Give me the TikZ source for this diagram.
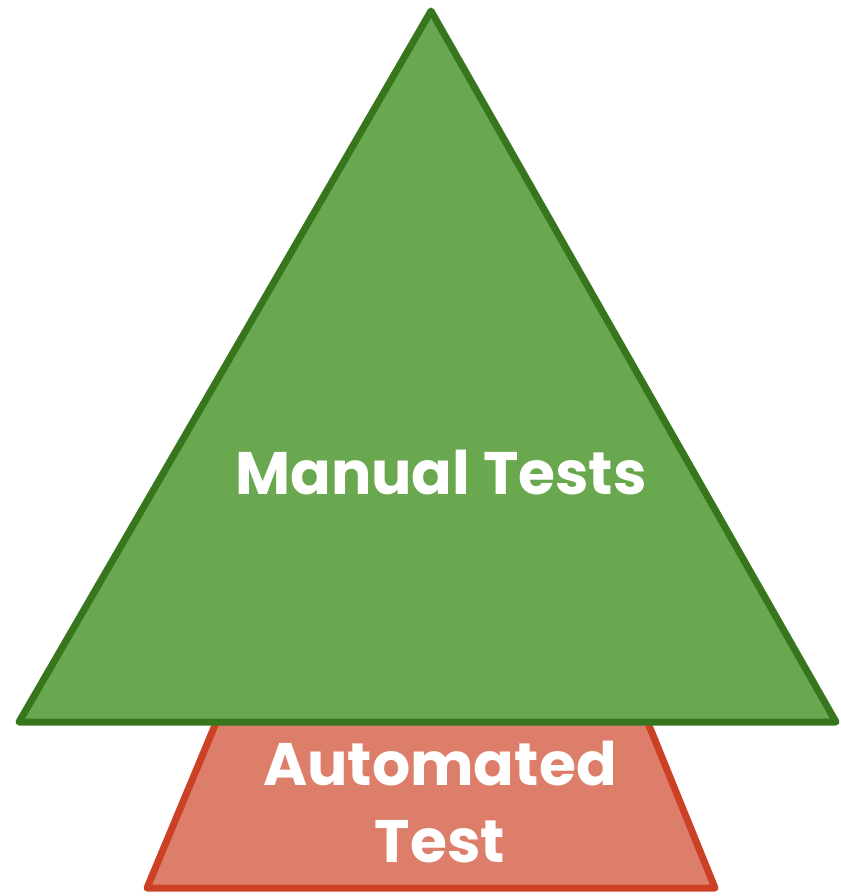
\documentclass[tikz,border=0pt]{standalone}
\usepackage{fontspec}
\setmainfont{Poppins}
\usetikzlibrary{calc}
\definecolor{manualfill}{HTML}{6AA84F}
\definecolor{manualline}{HTML}{38761D}
\definecolor{autofill}{HTML}{DD7E6B}
\definecolor{autoline}{HTML}{CC4125}
\tikzset{label text/.style={text=white, font=\fontsize{60}{77}\selectfont\bfseries, align=center, inner sep=0pt}}
\begin{document}
\begin{tikzpicture}[x=1pt, y=-1pt]
			%%%%% START %%%%%
			\useasboundingbox (0, 0) rectangle (840, 896);
			
			\draw[line width=7pt, line join=round, color=autoline, fill=autofill] (218, 718) -- (646, 718) -- (715, 888) -- (147, 888) -- cycle;
			
			\draw[line width=7pt, line join=round, color=manualline, fill=manualfill] (431, 11) -- (836, 722) -- (19, 722) -- cycle;
			
			\node[label text, anchor=base] (manual) at (441, 494) {Manual Tests};
			\node[label text, anchor=base] (auto) at (440, 862) {Automated\\Test};
			
			%%%%% END %%%%%
		\end{tikzpicture}
\end{document}
